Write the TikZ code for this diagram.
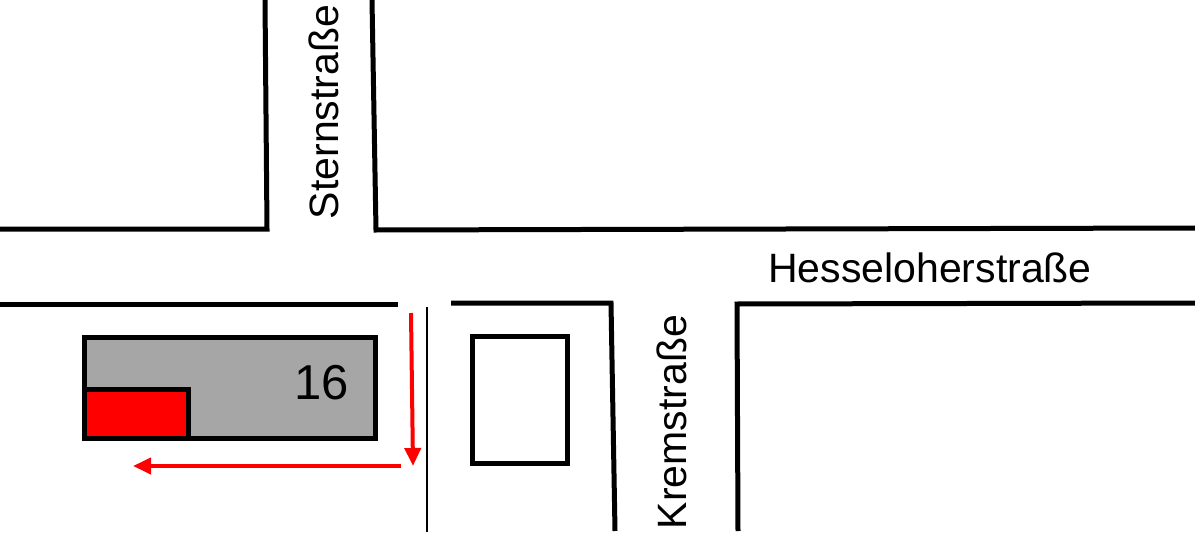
\documentclass[tikz,border=0pt]{standalone}
\usepackage{fontspec}
\setmainfont{Liberation Sans}
\usetikzlibrary{arrows.meta}
\definecolor{bgray}{HTML}{A6A6A6}
\definecolor{bred}{HTML}{FF0000}
\tikzset{
  street/.style={line width=5pt, line join=miter},
  thinline/.style={line width=2pt},
  house/.style={line width=5pt, draw=black},
  route/.style={draw=bred, line width=4pt, -{Triangle[length=18pt,width=16pt]}},
  streetname/.style={inner sep=0pt, font=\fontsize{41}{48}\selectfont},
}
\begin{document}
\begin{tikzpicture}[x=1pt,y=-1pt]
\useasboundingbox (0,0) rectangle (1195,535);
% street edges
\draw[street] (0,229) -- (267,229) -- (265,0);
\draw[street] (372,0) -- (376,230) -- (1195,228);
\draw[street] (0,304) -- (398,304);
\draw[thinline] (427,307) -- (427,532);
\draw[street] (451,303) -- (611,303) -- (615,531);
\draw[street] (738,531) -- (737,304) -- (1195,303);
% buildings
\draw[house, fill=bgray] (84,337) rectangle (375,438);
\draw[house, fill=bred] (84,389) rectangle (188,438);
\node[inner sep=0pt, font=\fontsize{49}{58}\selectfont] (num) at (322,383) {16};
\draw[house] (472,336) rectangle (567,463);
% street names
\node[streetname, rotate=90] (stern) at (324,112) {Sternstraße};
\node[streetname, rotate=90] (krems) at (672,422) {Kremstraße};
\node[streetname, anchor=base west] (hessel) at (768,282) {Hesseloherstraße};
% route
\coordinate (r1) at (411,313);
\coordinate (r2) at (413,466);
\coordinate (r3) at (401,466);
\coordinate (r4) at (133,466);
\draw[route] (r1) -- (r2);
\draw[route] (r3) -- (r4);
\end{tikzpicture}
\end{document}
